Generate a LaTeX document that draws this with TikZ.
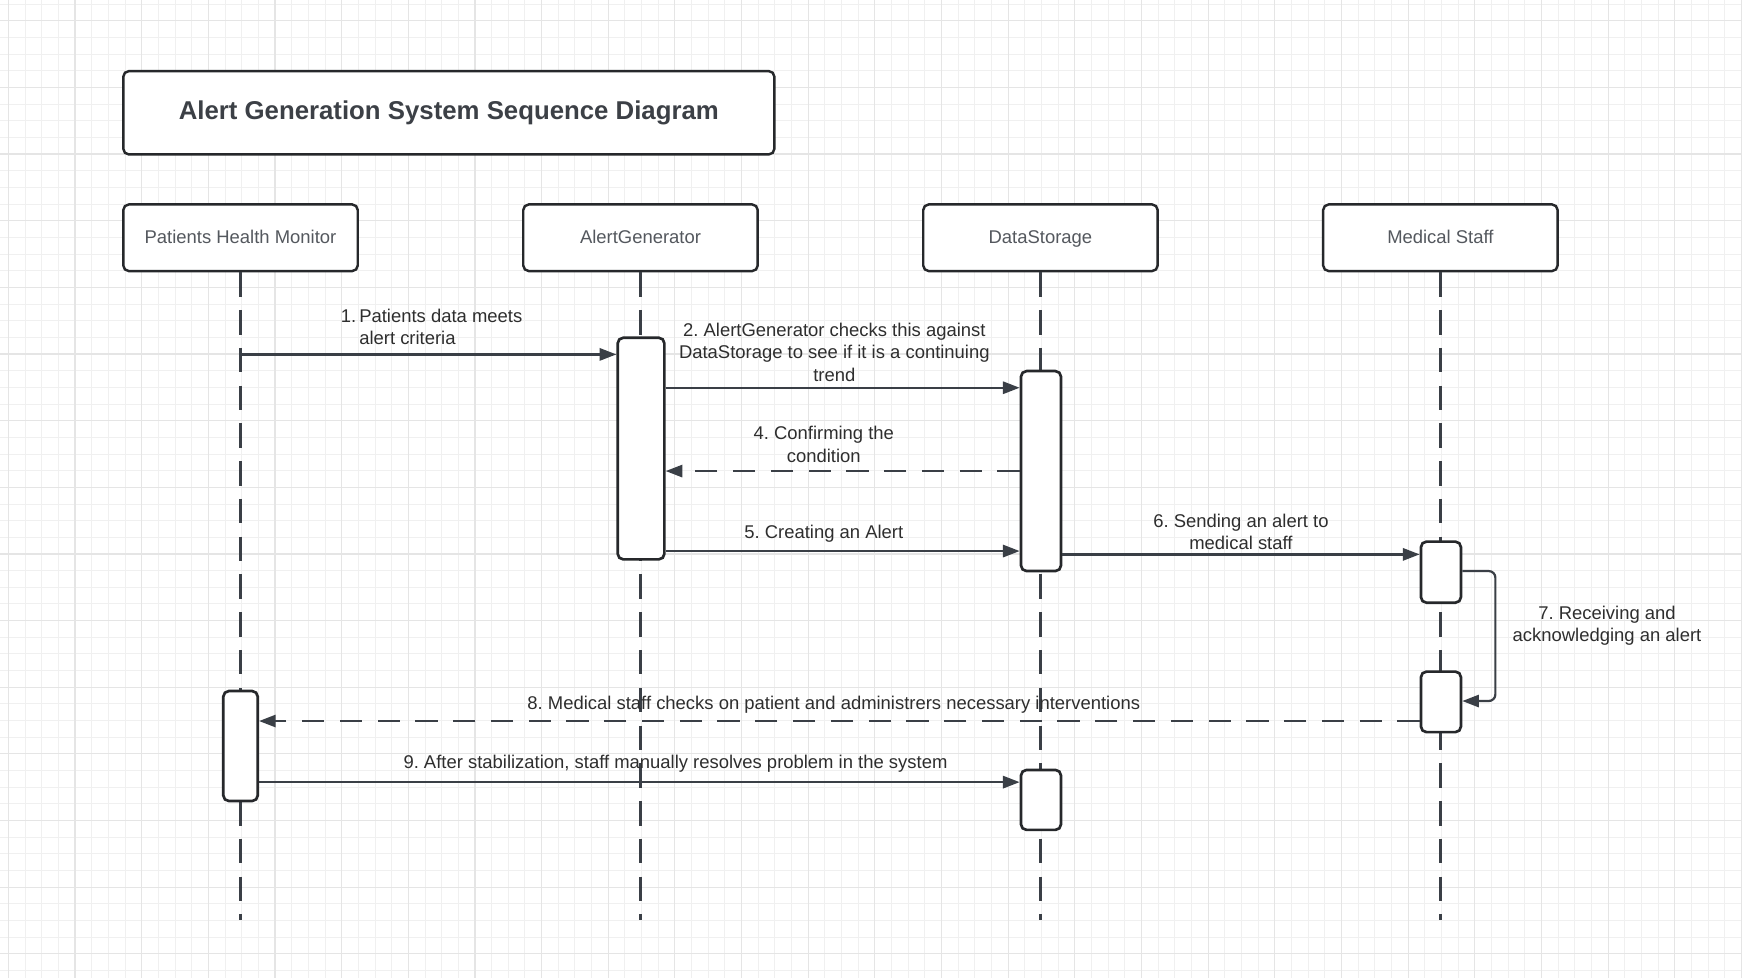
\documentclass[tikz,border=0pt]{standalone}
\usepackage{fontspec}
\setmainfont{Liberation Sans}
\usetikzlibrary{arrows.meta}
\frenchspacing
\definecolor{gridminor}{HTML}{F0F0F0}
\definecolor{gridmajor}{HTML}{E5E5E5}
\definecolor{linec}{HTML}{3A3F46}
\definecolor{boxc}{HTML}{26282B}
\definecolor{titlec}{HTML}{3C4046}
\definecolor{headc}{HTML}{54585E}
\definecolor{labc}{HTML}{2E2E2E}
\tikzset{
  titlebox/.style={draw=boxc, line width=1.1pt, rounded corners=2.5pt, fill=white,
    minimum width=293pt, minimum height=37.5pt, inner sep=0pt,
    font=\fontsize{11.6}{14}\selectfont\bfseries, text=titlec},
  headbox/.style={draw=boxc, line width=1.1pt, rounded corners=2.5pt, fill=white,
    minimum width=105.5pt, minimum height=30pt, inner sep=0pt,
    text height=0.75em, text depth=0.22em,
    font=\fontsize{8.3}{10}\selectfont, text=headc},
  lifeline/.style={draw=linec, line width=1pt, dash pattern=on 11pt off 6pt},
  actbox/.style={draw=boxc, line width=1.2pt, rounded corners=2.5pt, fill=white, inner sep=0pt},
  msg/.style={draw=linec, line width=1pt, -{Triangle[length=7.5pt,width=5.5pt]}},
  reply/.style={msg, dash pattern=on 10pt off 7pt},
  lab/.style={font=\fontsize{8.3}{10}\selectfont, text=labc, inner sep=0pt, align=center},
}
\begin{document}
\begin{tikzpicture}[x=0.5pt,y=-0.5pt]
\fill[white] (0,0) rectangle (1568,880);
\useasboundingbox (0,0) rectangle (1568,880);
% grid
\foreach \i in {0,...,104} {\draw[gridminor, line width=0.4pt] ({7.5+15*\i},0) -- ({7.5+15*\i},880);}
\foreach \i in {0,...,58} {\draw[gridminor, line width=0.4pt] (0,{3.6+15*\i}) -- (1568,{3.6+15*\i});}
\foreach \i in {0,...,26} {\draw[gridmajor, line width=0.5pt] ({7.5+60*\i},0) -- ({7.5+60*\i},880);}
\foreach \i in {0,...,14} {\draw[gridmajor, line width=0.5pt] (0,{18.6+60*\i}) -- (1568,{18.6+60*\i});}

% title
\node[titlebox] (title) at (404,101.5) {Alert Generation System Sequence Diagram};

% participants
\node[headbox] (phm) at (216.5,214) {Patients Health Monitor};
\node[headbox] (ag) at (576.5,214) {AlertGenerator};
\node[headbox] (ds) at (936.5,214) {DataStorage};
\node[headbox] (ms) at (1296.5,214) {Medical Staff};

% lifeline ends
\coordinate (phmend) at (216.5,828);
\coordinate (agend) at (576.5,828);
\coordinate (dsend) at (936.5,828);
\coordinate (msend) at (1296.5,828);
\draw[lifeline] (phm.south) -- (phmend);
\draw[lifeline] (ag.south) -- (agend);
\draw[lifeline] (ds.south) -- (dsend);
\draw[lifeline] (ms.south) -- (msend);

% activation boxes
\node[actbox, minimum width=21pt, minimum height=99.75pt] (ag1) at (577,403.75) {};
\node[actbox, minimum width=18pt, minimum height=90pt] (ds1) at (937,424) {};
\node[actbox, minimum width=18pt, minimum height=27.5pt] (ms1) at (1297,515) {};
\node[actbox, minimum width=18pt, minimum height=27.25pt] (ms2) at (1297,631.75) {};
\node[actbox, minimum width=15.5pt, minimum height=49.5pt] (phm1) at (216.5,671.5) {};
\node[actbox, minimum width=18pt, minimum height=27pt] (ds2) at (937,720) {};

% message rows
\coordinate (m1s) at (216.5,319);
\coordinate (y2) at (0,349);
\coordinate (y4) at (0,424);
\coordinate (y5) at (0,496);
\coordinate (y6) at (0,499);
\coordinate (y7a) at (0,514);
\coordinate (y7b) at (0,631);
\coordinate (x7) at (1346,0);
\coordinate (y8) at (0,649);
\coordinate (y9) at (0,704);

\draw[msg] (m1s) -- (m1s -| ag1.west);
\draw[msg] (ag1.east |- y2) -- (ds1.west |- y2);
\draw[reply] (ds1.west |- y4) -- (ag1.east |- y4);
\draw[msg] (ag1.east |- y5) -- (ds1.west |- y5);
\draw[msg] (ds1.east |- y6) -- (ms1.west |- y6);
\draw[msg, rounded corners=3pt] (ms1.east |- y7a) -- (x7 |- y7a) -- (x7 |- y7b) -- (ms2.east |- y7b);
\draw[reply] (ms2.west |- y8) -- (phm1.east |- y8);
\draw[msg] (phm1.east |- y9) -- (ds2.west |- y9);

% labels
\node[lab, anchor=base west] (l1n) at (306.5,290) {1.};
\node[lab, anchor=base west, align=left] (l1) at (323,310) {Patients data meets\\alert criteria};
\node[lab] (l2) at (751,317) {2. AlertGenerator checks this against\\DataStorage to see if it is a continuing\\trend};
\node[lab] (l4) at (741.5,400) {4. Confirming the\\condition};
\node[lab, anchor=base] (l5) at (741.5,485) {5. Creating an Alert};
\node[lab] (l6) at (1117,479) {6. Sending an alert to\\medical staff};
\node[lab] (l7) at (1446.5,563.5) {7. Receiving and\\acknowledging an alert};
\node[lab, anchor=base] (l8) at (750.5,639) {8. Medical staff checks on patient and administrers necessary interventions};
\node[lab, anchor=base] (l9) at (608,692) {9. After stabilization, staff manually resolves problem in the system};
\end{tikzpicture}
\end{document}
